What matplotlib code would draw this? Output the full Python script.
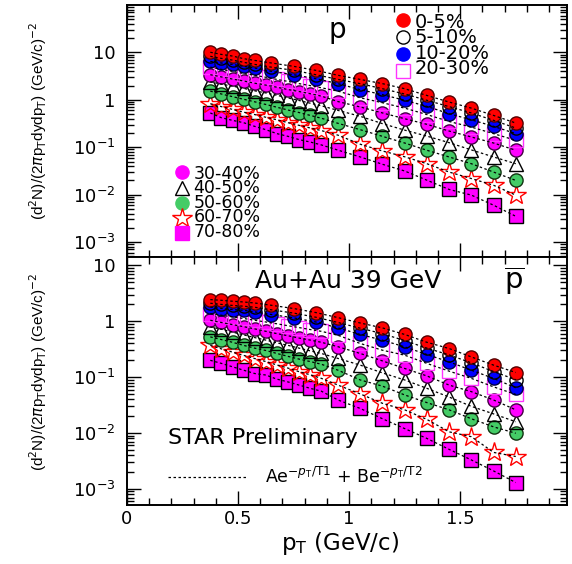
import numpy as np
import matplotlib
matplotlib.use('Agg')
import matplotlib.pyplot as plt
from matplotlib.ticker import LogLocator, MultipleLocator, NullFormatter

# pT bins (GeV/c): central bins are coarser in the low pT region
pt_coarse = [0.375, 0.425, 0.475, 0.525, 0.575, 0.65, 0.75, 0.85, 0.95,
             1.05, 1.15, 1.25, 1.35, 1.45, 1.55, 1.65, 1.75]
pt_fine = [0.375, 0.425, 0.475, 0.525, 0.575, 0.625, 0.675, 0.725, 0.775,
           0.825, 0.875, 0.95, 1.05, 1.15, 1.25, 1.35, 1.45, 1.55, 1.65, 1.75]

centralities = ['0-5%', '5-10%', '10-20%', '20-30%', '30-40%',
                '40-50%', '50-60%', '60-70%', '70-80%']

# proton spectra (top panel)
p_0_5 = [10.1, 9.1, 8.4, 7.4, 6.8, 6.0, 5.1, 4.2, 3.3, 2.7, 2.2, 1.72, 1.24, 0.90, 0.67, 0.47, 0.325]
p_5_10 = [8.3, 7.5, 6.9, 6.2, 5.6, 4.9, 4.2, 3.4, 2.7, 2.2, 1.72, 1.33, 0.98, 0.72, 0.53, 0.37, 0.255]
p_10_20 = [6.5, 6.0, 5.6, 5.1, 4.7, 4.0, 3.4, 2.8, 2.2, 1.64, 1.29, 0.98, 0.73, 0.51, 0.38, 0.277, 0.194]
p_20_30 = [4.9, 4.4, 4.0, 3.6, 3.3, 3.0, 2.7, 2.45, 2.2, 2.0, 1.8, 1.53,
           1.11, 0.87, 0.67, 0.49, 0.35, 0.267, 0.194, 0.140]
p_30_40 = [3.4, 3.05, 2.75, 2.5, 2.25, 2.05, 1.85, 1.65, 1.5, 1.35, 1.2, 0.92,
           0.71, 0.53, 0.40, 0.305, 0.22, 0.165, 0.123, 0.0865]
p_40_50 = [2.4, 2.15, 1.95, 1.75, 1.55, 1.4, 1.25, 1.1, 0.97, 0.85, 0.75, 0.6,
           0.45, 0.315, 0.23, 0.172, 0.125, 0.088, 0.0625, 0.045]
p_50_60 = [1.53, 1.33, 1.17, 1.03, 0.91, 0.80, 0.70, 0.61, 0.54, 0.47, 0.41, 0.32,
           0.235, 0.17, 0.123, 0.0865, 0.0625, 0.045, 0.030, 0.020]
p_60_70 = [0.83, 0.72, 0.63, 0.55, 0.49, 0.43, 0.38, 0.33, 0.29, 0.255, 0.225, 0.18,
           0.116, 0.0835, 0.063, 0.045, 0.030, 0.0219, 0.0158, 0.0098]
p_70_80 = [0.53, 0.42, 0.37, 0.33, 0.276, 0.235, 0.194, 0.17, 0.145, 0.129, 0.112, 0.087,
           0.0625, 0.0438, 0.0316, 0.0202, 0.0129, 0.0098, 0.006, 0.0035]

# anti-proton spectra (bottom panel)
pb_0_5 = [2.44, 2.37, 2.28, 2.21, 2.12, 1.93, 1.69, 1.43, 1.16, 0.93, 0.76, 0.58, 0.42, 0.325, 0.23, 0.164, 0.121]
pb_5_10 = [2.1, 2.0, 1.92, 1.86, 1.78, 1.6, 1.4, 1.18, 0.95, 0.75, 0.6, 0.45, 0.33, 0.25, 0.18, 0.126, 0.09]
pb_10_20 = [1.80, 1.69, 1.62, 1.57, 1.47, 1.32, 1.15, 0.97, 0.76, 0.58, 0.458, 0.348, 0.254, 0.1875, 0.133, 0.095, 0.0645]
pb_20_30 = [1.37, 1.28, 1.2, 1.12, 1.04, 0.97, 0.9, 0.83, 0.77, 0.71, 0.66, 0.56,
            0.40, 0.303, 0.247, 0.176, 0.128, 0.095, 0.067, 0.049]
pb_30_40 = [1.04, 0.95, 0.87, 0.8, 0.73, 0.66, 0.6, 0.55, 0.5, 0.46, 0.42, 0.35,
            0.265, 0.195, 0.143, 0.105, 0.072, 0.055, 0.039, 0.026]
pb_40_50 = [0.79, 0.72, 0.64, 0.57, 0.51, 0.46, 0.41, 0.37, 0.33, 0.295, 0.265, 0.216,
            0.164, 0.119, 0.089, 0.063, 0.044, 0.030, 0.022, 0.0159]
pb_50_60 = [0.525, 0.47, 0.42, 0.37, 0.33, 0.3, 0.265, 0.235, 0.21, 0.19, 0.17, 0.133,
            0.089, 0.069, 0.048, 0.035, 0.026, 0.018, 0.0129, 0.0099]
pb_60_70 = [0.37, 0.32, 0.28, 0.245, 0.215, 0.19, 0.165, 0.145, 0.125, 0.11, 0.095, 0.072,
            0.05, 0.034, 0.026, 0.0175, 0.0105, 0.0086, 0.0045, 0.0038]
pb_70_80 = [0.2, 0.176, 0.153, 0.133, 0.116, 0.109, 0.092, 0.082, 0.072, 0.063, 0.056, 0.039,
            0.0275, 0.018, 0.012, 0.008, 0.0051, 0.0033, 0.0021, 0.0013]

p_series = [p_0_5, p_5_10, p_10_20, p_20_30, p_30_40, p_40_50, p_50_60, p_60_70, p_70_80]
pb_series = [pb_0_5, pb_5_10, pb_10_20, pb_20_30, pb_30_40, pb_40_50, pb_50_60, pb_60_70, pb_70_80]

# marker styles: (marker, face, edge, size)
styles = [
    ('o', '#ff0000', '#550000', 9.5),
    ('o', 'none', 'black', 9.5),
    ('o', '#0000ff', '#000044', 9.5),
    ('s', 'none', '#ff33ff', 9.5),
    ('o', '#ff00ff', '#440044', 9.5),
    ('^', 'none', 'black', 10.5),
    ('o', '#44cc66', '#113311', 9.5),
    ('*', 'none', '#ff0000', 14.5),
    ('s', '#ff00ff', 'black', 9.5),
]

plt.rcParams['font.family'] = 'DejaVu Sans'

fig = plt.figure(figsize=(5.72, 5.64), dpi=100)
ax1 = fig.add_axes([0.222, 0.544, 0.769, 0.447])
ax2 = fig.add_axes([0.222, 0.105, 0.769, 0.439])


def draw_spectra(ax, series):
    # peripheral first, central on top
    for i in range(len(series) - 1, -1, -1):
        y = series[i]
        x = pt_coarse if len(y) == len(pt_coarse) else pt_fine
        m, fc, ec, ms = styles[i]
        ax.plot(x, y, ls='none', marker=m, mfc=fc, mec=ec, ms=ms, mew=1.0, zorder=3)
        ax.plot(x, y, ls=(0, (2, 2)), color='black', lw=0.9, zorder=4)


def key_block(ax, x, rows, idx, size, spacing):
    # markers one by one, labels as one multi-line text
    for i, yy in zip(idx, rows):
        m, fc, ec, ms = styles[i]
        if fc != 'none':
            ec = fc
        ax.plot([x], [yy], marker=m, mfc=fc, mec=ec, ms=ms, mew=1.0,
                transform=ax.transAxes, clip_on=False)
    txt = '\n'.join(centralities[i] for i in idx)
    ax.text(x + 0.026, (rows[0] + rows[-1]) / 2, txt, transform=ax.transAxes,
            fontsize=size, va='center', ha='left', linespacing=spacing)


def style_axis(ax, ymin, ymax):
    ax.set_yscale('log')
    ax.set_xlim(0, 1.98)
    ax.set_ylim(ymin, ymax)
    ax.xaxis.set_major_locator(MultipleLocator(0.5))
    ax.xaxis.set_minor_locator(MultipleLocator(0.1))
    ax.yaxis.set_major_locator(LogLocator(base=10, numticks=20))
    ax.yaxis.set_minor_locator(LogLocator(base=10, subs=np.arange(2, 10), numticks=20))
    ax.yaxis.set_minor_formatter(NullFormatter())
    ax.set_yticks([1e-3, 1e-2, 1e-1, 1, 10])
    ax.set_yticklabels(['10$^{-3}$', '10$^{-2}$', '10$^{-1}$', '1', '10'])
    ax.tick_params(which='both', direction='in', top=True, right=True, labelsize=13)
    ax.tick_params(which='major', length=10, width=1.0, pad=8)
    ax.tick_params(which='minor', length=5, width=1.0)
    for s in ax.spines.values():
        s.set_linewidth(1.4)


draw_spectra(ax1, p_series)
draw_spectra(ax2, pb_series)
style_axis(ax1, 4.8e-4, 100)
style_axis(ax2, 5.2e-4, 14)
ax1.tick_params(labelbottom=False)
ax2.set_xticks([0, 0.5, 1, 1.5])
ax2.set_xticklabels(['0', '0.5', '1', '1.5'])
ax2.tick_params(axis='x', pad=4)

ylab = '(d$^{2}$N)/(2$\\pi$p$_{\\rm T}$dydp$_{\\rm T}$) (GeV/c)$^{-2}$'
fig.text(0.066, 0.785, ylab, rotation=90, ha='center', va='center',
         fontsize=11, family='Liberation Sans')
fig.text(0.066, 0.34, ylab, rotation=90, ha='center', va='center',
         fontsize=11, family='Liberation Sans')
fig.text(0.594, 0.036, 'p$_{\\rm T}$ (GeV/c)', ha='center', va='center', fontsize=16.5)

# top panel labels
ax1.text(0.478, 0.90, 'p', transform=ax1.transAxes, fontsize=20, ha='center', va='center')
key_block(ax1, 0.628, [0.94, 0.873, 0.807, 0.74], range(4), 14, 0.75)
key_block(ax1, 0.125, [0.337, 0.276, 0.216, 0.155, 0.094], range(4, 9), 12.5, 0.76)

# bottom panel labels
ax2.text(0.291, 0.905, 'Au+Au 39 GeV', transform=ax2.transAxes, fontsize=18,
         ha='left', va='center')
ax2.text(0.88, 0.905, '$\\overline{\\rm p}$', transform=ax2.transAxes, fontsize=21,
         ha='center', va='center')
ax2.text(0.093, 0.27, 'STAR Preliminary', transform=ax2.transAxes, fontsize=16,
         ha='left', va='center')
ax2.plot([0.093, 0.275], [0.113, 0.113], ls=(0, (2, 2)), color='black', lw=0.9,
         transform=ax2.transAxes)
ax2.text(0.314, 0.113, 'Ae$^{-p_{\\rm T}/{\\rm T1}}$ + Be$^{-p_{\\rm T}/{\\rm T2}}$',
         transform=ax2.transAxes, fontsize=12.5, ha='left', va='center')

plt.savefig('out.png', dpi=100)
